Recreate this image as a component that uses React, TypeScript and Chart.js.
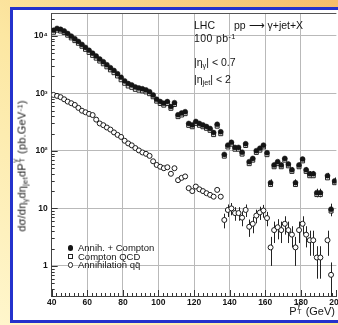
import React, { useEffect, useRef } from "react";
import { Chart, registerables } from "chart.js";

Chart.register(...registerables);

// ---- data ----
const ptBins = [
  41, 43, 45, 47, 49, 51, 53, 55, 57, 59,
  61, 63, 65, 67, 69, 71, 73, 75, 77, 79,
  81, 83, 85, 87, 89, 91, 93, 95, 97, 99,
  101, 103, 105, 107, 109, 111, 113, 115, 117, 119,
  121, 123, 125, 127, 129, 131, 133, 135, 137, 139,
  141, 143, 145, 147, 149, 151, 153, 155, 157, 159,
  161, 163, 165, 167, 169, 171, 173, 175, 177, 179,
  181, 183, 185, 187, 189, 191, 193, 195, 197, 199,
];

const annihPlusCompton = [
  12500, 13500, 13000, 12200, 11000, 9900, 8900, 8000, 7100, 6300,
  5600, 5000, 4450, 3950, 3550, 3150, 2800, 2500, 2200, 1900,
  1650, 1480, 1400, 1290, 1240, 1200, 1150, 1070, 940, 790,
  720, 675, 720, 590, 690, 425, 455, 480, 300, 283,
  325, 300, 283, 265, 245, 208, 290, 215, 87, 126,
  141, 115, 115, 95, 133, 65, 74, 101, 111, 126,
  93, 28, 57, 65, 57, 74, 59, 47, 28, 57,
  72, 47, 40, 40, 18.8, 18.8, null, 37, 9.7, 30,
];

const comptonQCD = [
  11560, 12600, 12140, 11410, 10280, 9225, 8270, 7440, 6600, 5830,
  5160, 4580, 4100, 3650, 3270, 2895, 2565, 2290, 2010, 1725,
  1500, 1345, 1275, 1178, 1138, 1106, 1061, 988, 874, 733,
  667, 625, 668, 550, 640, 394, 421, 444, 278, 263,
  301, 279, 263, 247, 228, 192, 269, 199, 81, 117,
  131, 107, 107, 88, 124, 60, 69, 94, 103, 117,
  86, 26, 53, 60, 53, 69, 55, 44, 26, 53,
  67, 44, 37, 37, 17.4, 17.4, null, 34, 9, 28,
];

const annihilationQQ = [
  940, 905, 860, 790, 720, 675, 630, 560, 500, 470,
  440, 420, 350, 300, 280, 255, 235, 210, 190, 175,
  150, 135, 125, 112, 102, 94, 89, 82, 66, 57,
  53, 50, 52, 40, 50, 31, 34, 36, 22.5, 20,
  24, 21.5, 20, 18.4, 17.2, 16, 21, 16, 6.3, 9.4,
  10, 8.3, 8.3, 6.9, 9.4, 4.8, 5.4, 7.5, 8.5, 9.2,
  6.8, 2.1, 4.2, 4.7, 4.2, 5.4, 4.2, 3.5, 2.1, 4.2,
  5.4, 3.5, 2.8, 2.8, 1.4, 1.4, null, 2.8, 0.7, null,
];

const annihPlusComptonErr = [
  0, 0, 0, 0, 0, 0, 0, 0, 0, 0,
  0, 0, 0, 0, 0, 0, 0, 0, 0, 0,
  0, 0, 0, 0, 0, 0, 0, 0, 0, 0,
  0, 0, 0, 0, 0, 0, 0, 0, 0, 0,
  0, 0, 0, 0, 0, 0, 0, 0, 5, 6,
  6.5, 6, 6, 5.5, 6.5, 4.5, 5, 5.5, 6, 6.5,
  5.5, 4, 5.5, 6, 5.5, 6, 5.5, 5, 4, 5.5,
  6, 5, 4.5, 4.5, 3.2, 3.2, null, 4.5, 2.4, 4.5,
];

const annihilationQQErr = [
  0, 0, 0, 0, 0, 0, 0, 0, 0, 0,
  0, 0, 0, 0, 0, 0, 0, 0, 0, 0,
  0, 0, 0, 0, 0, 0, 0, 0, 0, 0,
  0, 0, 0, 0, 0, 0, 0, 0, 1.8, 1.7,
  1.9, 1.8, 1.7, 1.6, 1.6, 1.5, 1.8, 1.5, 1.8, 2.3,
  2.4, 2.2, 2.2, 2.0, 2.3, 1.6, 1.7, 2.0, 2.2, 2.3,
  1.9, 1.1, 1.7, 1.8, 1.7, 1.9, 1.7, 1.4, 1.1, 1.7,
  1.9, 1.4, 1.3, 1.3, 0.8, 0.8, null, 1.3, 0.45, null,
];

const xTickValues = [40, 60, 80, 100, 120, 140, 160, 180, 200];
const yTickValues = [1, 10, 100, 1000, 10000];
const yTickLabels = ["1", "10", "10²", "10³", "10⁴"];
const legendLabels = ["Annih. + Compton", "Compton QCD", "Annihilation qq̄"];

const FONT = "'Liberation Sans', Arial, Helvetica, sans-serif";
const INK = "#151515";
const GRID = "#b9b9b9";

type Pt = { x: number; y: number; e: number | null };

function toPoints(ys: (number | null)[], errs: (number | null)[] | null): Pt[] {
  const out: Pt[] = [];
  ptBins.forEach((x, i) => {
    const y = ys[i];
    if (y !== null && y !== undefined) out.push({ x, y, e: errs ? errs[i] : null });
  });
  return out;
}

const decorPlugin = {
  id: "decor",
  beforeDatasetsDraw(chart: any) {
    const { ctx, chartArea: ca, scales } = chart;
    const xs = scales.x;
    const ys = scales.y;
    ctx.save();
    // top frame line
    ctx.strokeStyle = "#555";
    ctx.lineWidth = 1;
    ctx.beginPath();
    ctx.moveTo(ca.left, Math.round(ca.top) + 0.5);
    ctx.lineTo(ca.right, Math.round(ca.top) + 0.5);
    ctx.stroke();
    // inward minor ticks on y axis
    ctx.strokeStyle = "#333";
    for (let d = -1; d <= 4; d++) {
      for (let m = 1; m <= 9; m++) {
        const v = m * Math.pow(10, d);
        if (v < ys.min || v > ys.max) continue;
        const py = Math.round(ys.getPixelForValue(v)) + 0.5;
        const len = m === 1 ? 6 : 3;
        ctx.beginPath();
        ctx.moveTo(ca.left, py);
        ctx.lineTo(ca.left + len, py);
        ctx.stroke();
      }
    }
    // inward minor ticks on x axis
    for (let v = 40; v <= 200; v += 2.5) {
      const px = Math.round(xs.getPixelForValue(v)) + 0.5;
      const len = v % 20 === 0 ? 6 : 3;
      ctx.beginPath();
      ctx.moveTo(px, ca.bottom);
      ctx.lineTo(px, ca.bottom - len);
      ctx.stroke();
    }
    // error bars
    ctx.beginPath();
    ctx.rect(ca.left, ca.top, ca.right - ca.left, ca.bottom - ca.top);
    ctx.clip();
    ctx.strokeStyle = "#222";
    ctx.lineWidth = 1;
    chart.data.datasets.forEach((ds: any) => {
      (ds.data as Pt[]).forEach((p) => {
        if (!p.e) return;
        const px = Math.round(xs.getPixelForValue(p.x)) + 0.5;
        const lo = Math.max(p.y - p.e, ys.min);
        ctx.beginPath();
        ctx.moveTo(px, ys.getPixelForValue(lo));
        ctx.lineTo(px, ys.getPixelForValue(p.y + p.e));
        ctx.stroke();
      });
    });
    ctx.restore();
  },
};

const CANVAS_W = 360;
const CANVAS_H = 325;

function Stack({ top, bottom }: { top: string; bottom: string }) {
  return (
    <span style={{ position: "relative", display: "inline-block", width: "0.55em", height: "1em" }}>
      <span style={{ position: "absolute", left: 0.5, top: "-0.35em", fontSize: "0.68em" }}>{top}</span>
      <span style={{ position: "absolute", left: 0.5, top: "0.55em", fontSize: "0.68em" }}>{bottom}</span>
    </span>
  );
}

export default function App() {
  const canvasRef = useRef<HTMLCanvasElement>(null);

  useEffect(() => {
    const canvas = canvasRef.current;
    if (!canvas) return;
    const tickFont = { family: FONT, size: 8.5, weight: "bold" as const };
    const chart = new Chart(canvas, {
      type: "scatter",
      data: {
        datasets: [
          {
            label: legendLabels[0],
            data: toPoints(annihPlusCompton, annihPlusComptonErr) as any,
            pointStyle: "circle",
            pointRadius: 2.5,
            backgroundColor: INK,
            borderColor: INK,
            borderWidth: 0.5,
          },
          {
            label: legendLabels[1],
            data: toPoints(comptonQCD, null) as any,
            pointStyle: "rect",
            pointRadius: 2.8,
            backgroundColor: "#fff",
            borderColor: "#222",
            borderWidth: 1,
          },
          {
            label: legendLabels[2],
            data: toPoints(annihilationQQ, annihilationQQErr) as any,
            pointStyle: "circle",
            pointRadius: 2.5,
            backgroundColor: "#fff",
            borderColor: "#1a1a1a",
            borderWidth: 1,
          },
        ],
      },
      options: {
        responsive: false,
        animation: false,
        devicePixelRatio: 1,
        layout: { padding: { left: 0, top: 13, right: CANVAS_W - 336.4, bottom: 0 } },
        plugins: { legend: { display: false }, tooltip: { enabled: false }, title: { display: false } },
        scales: {
          x: {
            type: "linear",
            min: 40,
            max: 200,
            afterBuildTicks: (s: any) => {
              s.ticks = xTickValues.map((v) => ({ value: v }));
            },
            afterFit: (s: any) => {
              s.height = CANVAS_H - 296;
            },
            ticks: {
              font: tickFont,
              color: INK,
              padding: 2,
              maxRotation: 0,
              autoSkip: false,
              callback: (v: any) => String(v),
            },
            grid: {
              color: (c: any) => (c.tick && c.tick.value === 200 ? "rgba(0,0,0,0)" : GRID),
              lineWidth: 1,
              drawTicks: false,
            },
            border: { color: "#444", width: 1 },
          },
          y: {
            type: "logarithmic",
            min: 0.3,
            max: 25000,
            afterBuildTicks: (s: any) => {
              s.ticks = yTickValues.map((v) => ({ value: v, major: true }));
            },
            afterFit: (s: any) => {
              s.width = 51.7;
            },
            ticks: {
              font: tickFont,
              color: INK,
              padding: 4,
              autoSkip: false,
              callback: (v: any) => {
                const i = yTickValues.indexOf(Number(v));
                return i >= 0 ? yTickLabels[i] : "";
              },
            },
            grid: { color: GRID, lineWidth: 1, drawTicks: false },
            border: { color: "#444", width: 1 },
          },
        },
      },
      plugins: [decorPlugin],
    });
    return () => chart.destroy();
  }, []);

  const txt: React.CSSProperties = {
    position: "absolute",
    fontFamily: FONT,
    color: INK,
    whiteSpace: "nowrap",
    lineHeight: 1,
  };
  const sub: React.CSSProperties = { fontSize: "0.7em", verticalAlign: "-0.3em" };
  const sup: React.CSSProperties = { fontSize: "0.7em", verticalAlign: "0.45em" };

  const marker = (kind: number): React.CSSProperties => {
    const base: React.CSSProperties = {
      position: "absolute",
      left: 67.5,
      width: 5.5,
      height: 5.5,
      boxSizing: "border-box",
    };
    if (kind === 0) return { ...base, background: INK, borderRadius: "50%" };
    if (kind === 1) return { ...base, border: "1px solid #222", background: "#fff" };
    return { ...base, border: "1px solid #222", borderRadius: "50%", background: "#fff" };
  };
  const legendY = [248, 256.5, 265];

  return (
    <div
      style={{
        position: "fixed",
        left: 0,
        top: 0,
        width: 338,
        height: 325,
        overflow: "hidden",
        background: "linear-gradient(to top right, #fff6cc 0%, #fce7a2 45%, #f6bd6a 100%)",
      }}
    >
      <div
        style={{
          position: "absolute",
          left: 10,
          top: 7,
          width: 360,
          height: 310,
          border: "3px solid #2432cc",
          background: "#fff",
        }}
      />
      <canvas
        ref={canvasRef}
        width={CANVAS_W}
        height={CANVAS_H}
        style={{ position: "absolute", left: 0, top: 0, width: CANVAS_W, height: CANVAS_H }}
      />
      {/* annotation */}
      <div style={{ ...txt, left: 194, top: 20, fontSize: 10.5 }}>LHC</div>
      <div style={{ ...txt, left: 234, top: 20, fontSize: 10.5 }}>pp ⟶ γ+jet+X</div>
      <div style={{ ...txt, left: 194, top: 33, fontSize: 10.5, letterSpacing: 0.4 }}>
        100 pb<span style={sup}>-1</span>
      </div>
      <div style={{ ...txt, left: 194, top: 57, fontSize: 10.5 }}>
        |η<span style={sub}>γ</span>| &lt; 0.7
      </div>
      <div style={{ ...txt, left: 194, top: 74, fontSize: 10.5 }}>
        |η<span style={sub}>jet</span>| &lt; 2
      </div>
      {/* legend */}
      {legendLabels.map((l, i) => (
        <React.Fragment key={l}>
          <div style={{ ...marker(i), top: legendY[i] - 2.75 }} />
          <div style={{ ...txt, left: 78, top: legendY[i] - 5, fontSize: 9.5 }}>{l}</div>
        </React.Fragment>
      ))}
      {/* axis titles */}
      <div style={{ ...txt, right: 338 - 335, top: 304, fontSize: 11 }}>
        P<Stack top="γ" bottom="T" /> (GeV)
      </div>
      <div
        style={{
          ...txt,
          left: 22,
          top: 166,
          fontSize: 11,
          letterSpacing: 0.2,
          transform: "translate(-50%, -50%) rotate(-90deg)",
        }}
      >
        dσ/dη<span style={sub}>γ</span>dη<span style={sub}>jet</span>dP<Stack top="γ" bottom="T" /> (pb.GeV<span style={sup}>-1</span>)
      </div>
    </div>
  );
}
